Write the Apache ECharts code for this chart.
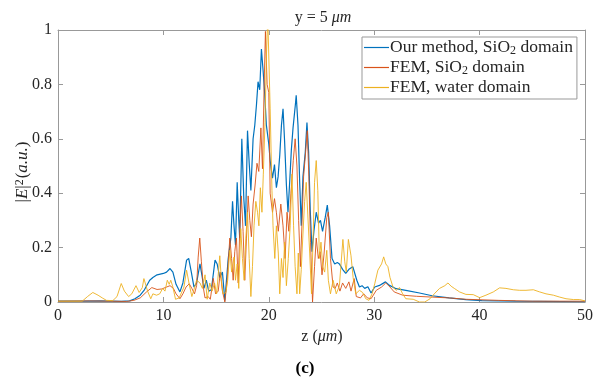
<!DOCTYPE html>
<html><head><meta charset="utf-8">
<script src="https://cdn.jsdelivr.net/npm/echarts@6/dist/echarts.min.js"></script>
<style>html,body{margin:0;padding:0;background:#fff}#c{width:596px;height:383px}</style>
</head><body><div id="c"></div>
<script>
// ---- data ----
const xRange = [0, 50];
const xStep = 10;
const yRange = [0, 1];
const yStep = 0.2;
const seriesNames = ['Our method, SiO₂ domain', 'FEM, SiO₂ domain', 'FEM, water domain'];

const blueZ = [0,2,4,5,6,6.8,7.3,7.8,8.2,8.7,9.0,9.4,10.0,10.3,10.63,10.9,11.2,11.57,11.85,12.2,12.4,12.65,12.9,13.15,13.47,13.65,13.85,14.07,14.3,14.55,14.9,15.1,15.35,15.6,15.83,16.15,16.4,16.56,16.7,16.84,17.0,17.15,17.24,17.44,17.63,17.79,17.98,18.14,18.3,18.51,18.67,18.83,18.98,19.14,19.3,19.46,19.62,19.77,20.0,20.13,20.35,20.54,20.72,20.88,21.04,21.2,21.35,21.5,21.67,21.82,21.98,22.14,22.3,22.52,22.6,22.77,22.93,23.08,23.24,23.46,23.62,23.78,23.93,24.1,24.28,24.5,24.72,24.9,25.1,25.35,25.55,25.77,26.0,26.25,26.5,26.7,27.0,27.3,27.6,27.97,28.1,28.35,28.6,28.85,29.1,29.4,29.7,30.05,30.5,31.07,31.45,32.08,33,34.3,35.5,37.1,38.7,40.2,43.4,50];
const blueV = [0.003,0.003,0.004,0.003,0.002,0.004,0.012,0.025,0.045,0.08,0.09,0.10,0.105,0.11,0.123,0.11,0.065,0.037,0.07,0.154,0.16,0.11,0.055,0.07,0.14,0.10,0.05,0.08,0.04,0.045,0.154,0.14,0.09,0.11,0.005,0.16,0.235,0.37,0.28,0.21,0.44,0.30,0.235,0.60,0.38,0.28,0.63,0.51,0.41,0.60,0.65,0.725,0.81,0.78,0.93,0.85,0.76,0.65,0.58,0.52,0.455,0.505,0.42,0.46,0.54,0.65,0.71,0.59,0.43,0.33,0.44,0.56,0.64,0.725,0.76,0.65,0.44,0.28,0.46,0.55,0.66,0.55,0.34,0.185,0.26,0.33,0.29,0.30,0.26,0.31,0.356,0.28,0.16,0.14,0.145,0.14,0.12,0.105,0.12,0.13,0.135,0.08,0.055,0.06,0.05,0.056,0.033,0.055,0.061,0.074,0.061,0.049,0.043,0.033,0.023,0.015,0.009,0.005,0.003,0.001];

const orangeZ = [0,3,5,6.5,7.2,7.8,8.4,8.9,9.4,9.85,10.3,10.63,10.95,11.2,11.57,11.85,12.15,12.45,12.7,12.95,13.15,13.3,13.45,13.6,13.8,13.95,14.25,14.45,14.73,14.95,15.2,15.4,15.6,15.83,16.05,16.3,16.47,16.62,16.77,16.93,17.1,17.24,17.4,17.56,17.72,17.88,18.04,18.2,18.35,18.51,18.7,18.88,19.05,19.25,19.4,19.55,19.68,19.84,20.0,20.13,20.35,20.54,20.72,20.9,21.14,21.35,21.55,21.73,21.9,22.1,22.32,22.5,22.67,22.83,23.0,23.14,23.3,23.49,23.65,23.8,23.96,24.15,24.34,24.5,24.7,24.87,25.05,25.25,25.5,25.65,25.85,26.1,26.3,26.5,26.75,27.0,27.3,27.6,27.8,28.1,28.3,28.7,29.0,29.35,29.7,30.2,30.7,31.1,31.5,31.9,32.7,34,35.5,37.1,38.7,41.8,45,50];
const orangeV = [0.003,0.004,0.003,0.002,0.006,0.015,0.037,0.053,0.046,0.048,0.055,0.06,0.05,0.03,0.012,0.03,0.055,0.067,0.05,0.03,0.06,0.165,0.235,0.15,0.05,0.015,0.02,0.01,0.087,0.03,0.04,0.11,0.04,0.0,0.08,0.235,0.16,0.08,0.185,0.235,0.07,0.26,0.39,0.26,0.08,0.235,0.39,0.30,0.24,0.36,0.43,0.51,0.48,0.64,0.49,0.78,0.995,0.80,0.77,0.40,0.33,0.38,0.33,0.26,0.36,0.28,0.16,0.33,0.26,0.40,0.52,0.60,0.50,0.30,0.13,0.28,0.46,0.55,0.63,0.46,0.22,0.0,0.13,0.235,0.16,0.185,0.10,0.18,0.31,0.33,0.16,0.055,0.05,0.07,0.04,0.07,0.05,0.074,0.04,0.086,0.02,0.015,0.03,0.015,0.012,0.043,0.055,0.07,0.055,0.037,0.025,0.021,0.018,0.015,0.01,0.006,0.003,0.003];

const yellowZ = [0,2.3,2.8,3.3,3.8,4.2,4.6,5.2,5.6,6.0,6.3,6.7,7.0,7.4,7.7,8.0,8.15,8.5,8.8,9.0,9.35,9.65,9.93,10.15,10.37,10.55,10.7,10.9,11.15,11.5,11.95,12.2,12.45,12.7,12.9,13.15,13.47,13.7,13.95,14.15,14.4,14.62,14.85,15.05,15.35,15.5,15.65,15.93,16.1,16.3,16.47,16.7,16.84,17.0,17.15,17.34,17.5,17.66,17.82,17.98,18.14,18.3,18.45,18.6,18.77,18.93,19.06,19.2,19.35,19.48,19.64,19.77,19.9,20.05,20.13,20.3,20.4,20.57,20.72,20.9,21.04,21.2,21.35,21.5,21.67,21.85,22.03,22.2,22.35,22.5,22.67,22.8,22.93,23.08,23.24,23.4,23.55,23.7,23.88,24.05,24.2,24.34,24.5,24.65,24.8,24.95,25.12,25.3,25.5,25.65,25.85,26.1,26.4,26.7,27.03,27.2,27.35,27.55,27.8,28.0,28.25,28.6,28.9,29.2,29.5,29.8,30.05,30.35,30.7,30.9,31.1,31.3,31.5,31.8,32.1,32.4,32.7,33.0,33.7,34.3,34.8,35.3,35.7,36.2,36.7,37.0,37.3,37.6,38.1,38.7,39.4,40.0,40.6,41.3,41.9,42.5,43.2,43.8,44.4,45.1,45.7,46.3,47.0,47.6,48.2,48.9,49.5,50];
const yellowV = [0.003,0.003,0.02,0.035,0.025,0.015,0.006,0.005,0.02,0.068,0.04,0.02,0.03,0.06,0.035,0.053,0.086,0.04,0.012,0.03,0.025,0.03,0.05,0.04,0.08,0.065,0.08,0.055,0.01,0.015,0.055,0.117,0.065,0.02,0.045,0.08,0.07,0.05,0.10,0.01,0.07,0.04,0.07,0.03,0.17,0.08,0.03,0.035,0.08,0.19,0.11,0.165,0.08,0.14,0.05,0.27,0.16,0.08,0.235,0.33,0.16,0.02,0.13,0.28,0.37,0.33,0.28,0.42,0.33,0.47,0.66,0.90,1.05,1.05,0.71,0.41,0.28,0.16,0.28,0.18,0.03,0.16,0.09,0.22,0.06,0.16,0.28,0.47,0.28,0.13,0.03,0.18,0.03,0.12,0.25,0.37,0.44,0.32,0.18,0.03,0.23,0.44,0.52,0.41,0.16,0.22,0.13,0.11,0.19,0.08,0.03,0.08,0.03,0.06,0.23,0.15,0.11,0.23,0.17,0.09,0.03,0.043,0.035,0.012,0.006,0.03,0.067,0.117,0.14,0.166,0.14,0.13,0.09,0.053,0.043,0.053,0.03,0.012,0.01,0.0,0.0,0.012,0.03,0.05,0.06,0.07,0.058,0.05,0.037,0.028,0.027,0.016,0.025,0.037,0.052,0.05,0.045,0.043,0.043,0.045,0.037,0.03,0.025,0.018,0.012,0.009,0.009,0.004];

// ---- chart ----
const FONT = 'Liberation Serif';
const AXC = '#999';
const TXT = '#262626';
const colors = ['#0072BD', '#D95319', '#EDB120'];
const pair = (zs, vs) => zs.map((z, i) => [z, vs[i]]);
const seriesData = [pair(blueZ, blueV), pair(orangeZ, orangeV), pair(yellowZ, yellowV)];

const baseX = {
  type: 'value', min: xRange[0], max: xRange[1], interval: xStep,
  axisLine: { show: true, onZero: false, lineStyle: { color: AXC, width: 1 } },
  axisTick: { show: true, inside: true, length: 5, lineStyle: { color: AXC } },
  splitLine: { show: false }
};
const baseY = {
  type: 'value', min: yRange[0], max: yRange[1], interval: yStep,
  axisLine: { show: true, onZero: false, lineStyle: { color: AXC, width: 1 } },
  axisTick: { show: true, inside: true, length: 5, lineStyle: { color: AXC } },
  splitLine: { show: false }
};

const chart = echarts.init(document.getElementById('c'), null, { renderer: 'canvas' });
chart.setOption({
  animation: false,
  backgroundColor: '#fff',
  grid: { left: 58, right: 10, top: 30, bottom: 81, containLabel: false },
  xAxis: [
    Object.assign({}, baseX, { position: 'bottom',
      axisLabel: { show: true, color: TXT, fontFamily: FONT, fontSize: 16, margin: 6 } }),
    Object.assign({}, baseX, { position: 'top', axisLabel: { show: false } })
  ],
  yAxis: [
    Object.assign({}, baseY, { position: 'left',
      axisLabel: { show: true, color: TXT, fontFamily: FONT, fontSize: 16, margin: 6 } }),
    Object.assign({}, baseY, { position: 'right', axisLabel: { show: false } })
  ],
  legend: {
    orient: 'vertical', left: 362, top: 37,
    backgroundColor: '#fff', borderColor: AXC, borderWidth: 1, borderRadius: 0,
    padding: [1, 4, 2, 2], itemGap: 1, itemWidth: 25, itemHeight: 1.2,
    icon: 'rect',
    data: seriesNames,
    formatter: n => n.replace('SiO₂', 'SiO{sub|2}'),
    textStyle: { color: TXT, fontFamily: FONT, fontSize: 17.5, lineHeight: 19, padding: [0, 0, 0, -4],
      rich: { sub: { fontFamily: FONT, fontSize: 12, verticalAlign: 'bottom', color: TXT, padding: [6, 0, 0, 0] } } }
  },
  series: seriesData.map((d, i) => ({
    name: seriesNames[i], type: 'line', data: d, xAxisIndex: 0, yAxisIndex: 0,
    symbol: 'none', showSymbol: false, clip: true,
    lineStyle: { color: colors[i], width: i === 0 ? 1.2 : 0.9 },
    itemStyle: { color: colors[i] }
  })),
  graphic: [
    { type: 'text', position: [323, 10],
      style: { text: 'y = 5 {i|μm}', fill: TXT, font: '16px ' + FONT, textAlign: 'center',
        rich: { i: { fontStyle: 'italic', fontFamily: FONT, fontSize: 16, fill: TXT } } },
      silent: true },
    { type: 'text', position: [322, 329],
      style: { text: 'z ({i|μm})', fill: TXT, font: '16px ' + FONT, textAlign: 'center',
        rich: { i: { fontStyle: 'italic', fontFamily: FONT, fontSize: 16, fill: TXT } } },
      silent: true },
    { type: 'text', position: [305, 360],
      style: { text: '(c)', fill: '#000', font: 'bold 17px ' + FONT, textAlign: 'center' },
      silent: true },
    { type: 'text', position: [23, 172], rotation: Math.PI / 2,
      style: { text: '|{i|E}|{sup|2}({i|a.u.})', fill: TXT, font: '17px ' + FONT,
        textAlign: 'center', textVerticalAlign: 'middle',
        rich: { i: { fontStyle: 'italic', fontFamily: FONT, fontSize: 17, fill: TXT },
                sup: { fontFamily: FONT, fontSize: 12, fill: TXT, verticalAlign: 'top', padding: [0, 1, 6, 0] } } },
      silent: true }
  ]
});
</script>
</body></html>
